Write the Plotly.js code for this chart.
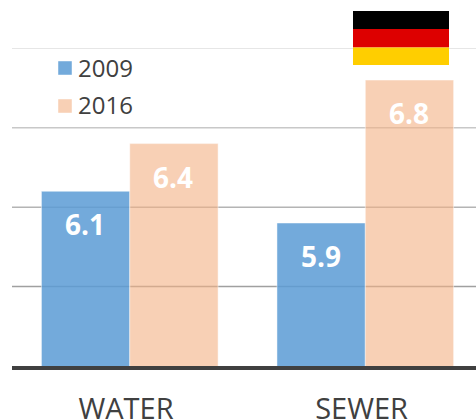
<!DOCTYPE html>
<html><head><meta charset="utf-8">
<script src="https://cdn.plot.ly/plotly-3.0.1.min.js"></script>
<style>html,body{margin:0;padding:0;background:#fff;overflow:hidden}</style>
</head><body><div id="chart" style="width:476px;height:419px"></div>
<script>
const categories = ['WATER', 'SEWER'];
const seriesNames = ['2009', '2016'];
const values2009 = [6.1, 5.9];
const values2016 = [6.4, 6.8];
const seriesColors = ['rgba(91,155,213,0.85)', 'rgba(244,177,131,0.6)'];
const gridValues = [5.5, 6, 6.5, 7];
const gridColors = ['#a0a0a0', '#b4b4b4', '#c8c8c8', '#e6e6e6'];
const flagColors = ['#000000', '#dd0000', '#ffce00'];

const W = 476, H = 419, L = 12, T = 48, PW = 464, PH = 318;
const px = x => (x - L) / PW;
const py = y => 1 - (y - T) / PH;
const flagY = [11, 29, 47.5, 65];
const edge = 'rgba(255,255,255,0.45)';

const bar = (name, y, color) => ({
  type: 'bar', name, x: categories, y,
  marker: {color, line: {color: edge, width: 1}},
  hoverinfo: 'skip'
});
const annotations = [];
categories.forEach((c, i) => {
  [[values2009, -44], [values2016, 44]].forEach(([v, dx]) => annotations.push({
    x: c, y: v[i], xref: 'x', yref: 'y', text: v[i].toFixed(1), showarrow: false,
    xshift: dx - 0.5, yshift: -33,
    font: {family: 'Open Sans', size: 28, color: '#ffffff', weight: 700}
  }));
});
const shapes = gridValues.map((v, i) => ({
  type: 'line', xref: 'paper', x0: 0, x1: 1, yref: 'y', y0: v, y1: v,
  layer: 'below', line: {color: gridColors[i], width: 1.5}
}));
flagColors.forEach((c, i) => shapes.push({
  type: 'rect', xref: 'paper', yref: 'paper', x0: px(353), x1: px(449),
  y0: py(flagY[i + 1]), y1: py(flagY[i]), fillcolor: c, line: {width: 0}, layer: 'above'
}));
// legend keys placed as in the reference
const legendY = [68, 106];
seriesNames.forEach((n, i) => {
  shapes.push({
    type: 'rect', xref: 'paper', yref: 'paper', x0: px(58), x1: px(72),
    y0: py(legendY[i] + 7), y1: py(legendY[i] - 7),
    fillcolor: seriesColors[i], line: {width: 1, color: edge}, layer: 'above'
  });
  annotations.push({
    xref: 'paper', yref: 'paper', x: px(76), y: py(legendY[i] - 1), xanchor: 'left', yanchor: 'middle',
    text: n, showarrow: false, font: {family: 'Open Sans', size: 24, color: '#404040'}
  });
});

Plotly.newPlot('chart', [
  bar(seriesNames[0], values2009, seriesColors[0]),
  bar(seriesNames[1], values2016, seriesColors[1])
], {
  width: W, height: H, paper_bgcolor: '#fff', plot_bgcolor: '#fff',
  margin: {l: L, r: 0, t: T, b: H - T - PH, pad: 0},
  barmode: 'group', bargap: 0.25, bargroupgap: 0, showlegend: false,
  xaxis: {type: 'category', range: [-0.5, 1.47], showgrid: false, showline: true, linecolor: '#404040', linewidth: 4,
    ticks: '', tickmode: 'array', tickvals: categories, ticktext: categories.map(c => c + '\u00a0'),
    ticklabelstandoff: 14, tickfont: {family: 'Open Sans', size: 29, color: '#404040'}},
  yaxis: {range: [5, 7.002], showgrid: false, zeroline: false, showticklabels: false, ticks: '', fixedrange: true},
  annotations, shapes
}, {displayModeBar: false, staticPlot: true});
</script></body></html>
